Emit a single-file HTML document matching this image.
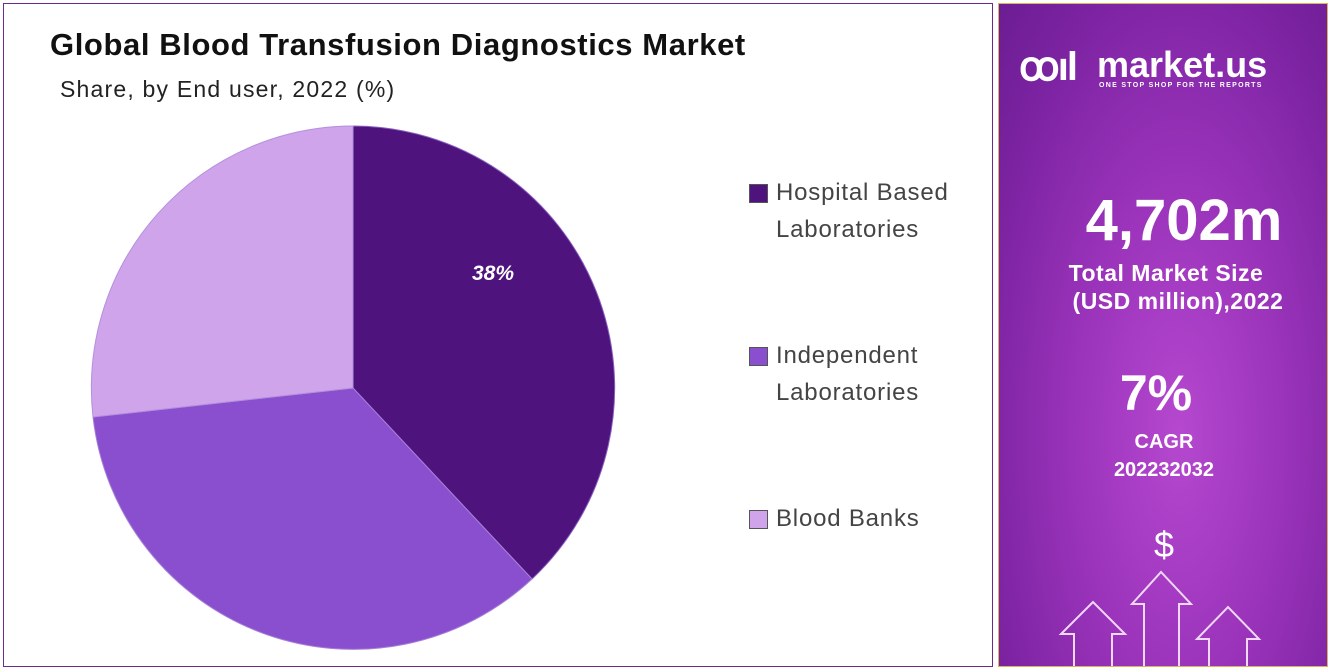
<!DOCTYPE html><html><head><style>
body{margin:0;width:1334px;height:671px;background:#fff;position:relative;overflow:hidden;font-family:"Liberation Sans",sans-serif}
.l{position:absolute;left:3px;top:3px;width:988px;height:662px;border:1.5px solid #6a2b8a}
.r{position:absolute;left:998px;top:3px;width:328px;height:662px;border:1.5px solid #d9b45a;background:radial-gradient(ellipse at 55% 65%,#b548cf 0%,#9b34bb 40%,#7a22a0 80%,#6c1d93 100%);overflow:hidden}
.t{position:absolute;color:#fff;font-weight:bold;text-align:center;white-space:nowrap}
.lg{position:absolute;left:750px;font-size:24px;color:#444;line-height:37px;letter-spacing:0.8px}
.sw{position:absolute;left:-1px;top:10px;width:17px;height:17px;border:1px solid #555}
</style></head><body>
<div class="l"></div>
<div style="position:absolute;left:50px;top:27px;font-size:31px;font-weight:bold;color:#111;letter-spacing:0.6px">Global Blood Transfusion Diagnostics Market</div>
<div style="position:absolute;left:60px;top:76px;font-size:23px;color:#222;letter-spacing:1.2px">Share, by End user, 2022 (%)</div>
<svg style="position:absolute;left:0;top:0" width="995" height="671">
<path d="M353,388 L353,126 A262,262 0 0,1 532,579 Z" fill="#4e137d" stroke="#8a5fc0" stroke-width="1"/>
<path d="M353,388 L532,579 A262,262 0 0,1 93,417 Z" fill="#8a4fcf" stroke="#a880d8" stroke-width="1"/>
<path d="M353,388 L93,417 A262,262 0 0,1 353,126 Z" fill="#cfa4ea" stroke="#b390dd" stroke-width="1"/>
<text x="493" y="280" fill="#fff" font-size="21" font-weight="bold" font-style="italic" text-anchor="middle" font-family="Liberation Sans">38%</text>
</svg>
<div class="lg" style="top:174px"><div class="sw" style="background:#4e137d"></div><span style="margin-left:26px">Hospital Based</span><br><span style="margin-left:26px">Laboratories</span></div>
<div class="lg" style="top:337px"><div class="sw" style="background:#8a4fcf"></div><span style="margin-left:26px">Independent</span><br><span style="margin-left:26px">Laboratories</span></div>
<div class="lg" style="top:500px"><div class="sw" style="background:#cfa4ea"></div><span style="margin-left:26px">Blood Banks</span></div>
<div class="r">
<div class="t" style="left:20px;top:40px;font-size:40px;letter-spacing:-2px">ꝏıl</div>
<div class="t" style="left:98px;top:40px;font-size:36px;text-align:left">market.us</div>
<div class="t" style="left:100px;top:78px;font-size:7px;letter-spacing:1.3px">ONE STOP SHOP FOR THE REPORTS</div>
<div class="t" style="left:0;width:370px;top:183px;font-size:58px">4,702m</div>
<div class="t" style="left:0;width:334px;top:256px;font-size:23px;letter-spacing:0.5px">Total Market Size</div>
<div class="t" style="left:0;width:358px;top:284px;font-size:23px;letter-spacing:0.5px">(USD million),2022</div>
<div class="t" style="left:0;width:314px;top:360px;font-size:50px">7%</div>
<div class="t" style="left:0;width:330px;top:427px;font-size:20px">CAGR</div>
<div class="t" style="left:0;width:330px;top:455px;font-size:20px">202232032</div>
<div class="t" style="left:0;width:330px;top:520px;font-size:36px;font-weight:normal">$</div>
<svg style="position:absolute;left:0;top:560px" width="330" height="110" fill="none" stroke="#f0d8f6" stroke-width="2">
<path d="M75,110 V70 H62 L94,38 L126,70 H113 V110"/>
<path d="M145,110 V40 H133 L162,8 L192,40 H180 V110"/>
<path d="M210,110 V75 H198 L229,43 L260,75 H248 V110"/>
</svg>
</div>
</body></html>
